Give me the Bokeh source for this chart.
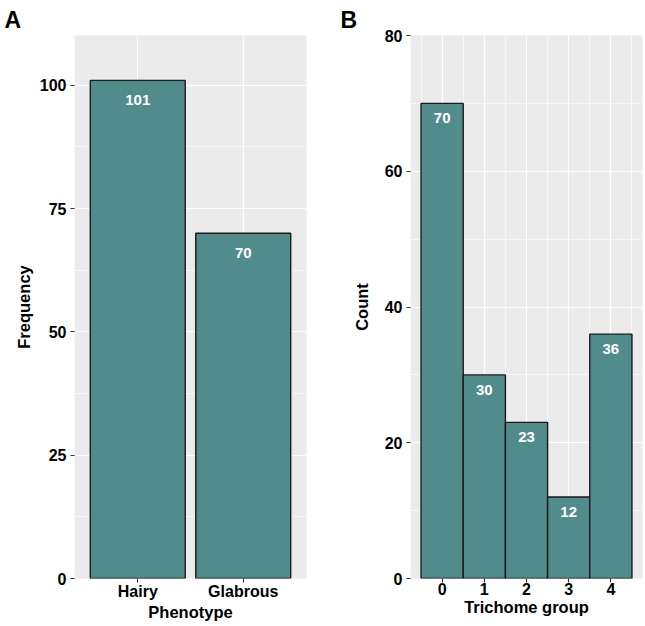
from bokeh.plotting import figure
from bokeh.models import Range1d, FixedTicker
from bokeh.layouts import row
from bokeh.embed import file_html
from bokeh.resources import INLINE
from bokeh.core.properties import value

# ---- data ----
phenotypes = ["Hairy", "Glabrous"]
phenotype_freq = [101, 70]
trichome_groups = [0, 1, 2, 3, 4]
trichome_counts = [70, 30, 23, 12, 36]
freq_ticks = [0, 25, 50, 75, 100]
count_ticks = [0, 20, 40, 60, 80]

FILL = "#528B8B"
EDGE = "#1a1a1a"
FONT = "Liberation Sans"


def style(p, xlabel, ylabel, ylab_standoff, xlab_standoff, tag, tag_offset, tag_standoff):
    p.background_fill_color = "#EBEBEB"
    p.border_fill_color = "white"
    p.outline_line_color = None
    for ax in (p.xaxis[0], p.yaxis[0]):
        ax.axis_line_color = None
        ax.major_tick_line_color = "#333333"
        ax.major_tick_line_width = 1.1
        ax.major_tick_in = 0
        ax.major_tick_out = 4
        ax.minor_tick_line_color = None
        ax.major_label_text_font = FONT
        ax.major_label_text_font_style = "bold"
        ax.major_label_text_font_size = "16px"
        ax.major_label_text_color = "black"
        ax.axis_label_text_font = FONT
        ax.axis_label_text_font_style = "bold"
        ax.axis_label_text_font_size = "16.5px"
        ax.axis_label_text_color = "black"
    p.yaxis[0].major_label_standoff = 4
    p.xaxis[0].major_label_standoff = 0
    p.xaxis[0].axis_label = xlabel
    p.yaxis[0].axis_label = ylabel
    p.yaxis[0].axis_label_standoff = ylab_standoff
    p.xaxis[0].axis_label_standoff = xlab_standoff
    for g in (p.xgrid[0], p.ygrid[0]):
        g.grid_line_color = "white"
        g.grid_line_width = 1.2
        g.minor_grid_line_color = "white"
        g.minor_grid_line_width = 0.6
    p.title.text = tag
    p.title.text_font = FONT
    p.title.text_font_style = "bold"
    p.title.text_font_size = "23px"
    p.title.text_color = "black"
    p.title.align = "left"
    p.title.offset = tag_offset
    p.title.standoff = tag_standoff


def mids(t):
    return [(a + b) / 2 for a, b in zip(t, t[1:])]


# ---- panel A ----
xa = list(range(1, len(phenotypes) + 1))
pA = figure(width=330, height=626, output_backend="svg", toolbar_location=None,
            x_range=Range1d(0.4, len(phenotypes) + 0.6), y_range=Range1d(0, 110.1),
            min_border_left=74, min_border_right=24, min_border_top=34, min_border_bottom=48)
pA.vbar(x=xa, top=phenotype_freq, width=0.9, fill_color=FILL, line_color=EDGE, line_width=1.4)
pA.text(x=xa, y=phenotype_freq, text=[str(v) for v in phenotype_freq], y_offset=20,
        text_align="center", text_baseline="middle", text_color="white",
        text_font=value(FONT), text_font_style="bold", text_font_size="15px")
pA.xaxis.ticker = FixedTicker(ticks=xa, minor_ticks=[])
pA.xaxis.major_label_overrides = {i: n for i, n in zip(xa, phenotypes)}
pA.yaxis.ticker = FixedTicker(ticks=freq_ticks, minor_ticks=mids(freq_ticks + [125]))
style(pA, "Phenotype", "Frequency", 4, 0, "A", -70, 5)

# ---- panel B ----
pB = figure(width=315, height=626, output_backend="svg", toolbar_location=None,
            x_range=Range1d(-0.75, 4.75), y_range=Range1d(0, 80),
            min_border_left=80, min_border_right=3, min_border_top=35, min_border_bottom=48)
pB.vbar(x=trichome_groups, top=trichome_counts, width=1.0, fill_color=FILL,
        line_color=EDGE, line_width=1.4)
pB.text(x=trichome_groups, y=trichome_counts, text=[str(v) for v in trichome_counts],
        y_offset=15, text_align="center", text_baseline="middle", text_color="white",
        text_font=value(FONT), text_font_style="bold", text_font_size="15px")
pB.xaxis.ticker = FixedTicker(ticks=trichome_groups,
                              minor_ticks=[g - 0.5 for g in trichome_groups] + [trichome_groups[-1] + 0.5])
pB.yaxis.ticker = FixedTicker(ticks=count_ticks, minor_ticks=mids(count_ticks))
style(pB, "Trichome group", "Count", 11, 0, "B", -70, 6)

layout = row(pA, pB)
open("out.html", "w").write(file_html(layout, INLINE))
